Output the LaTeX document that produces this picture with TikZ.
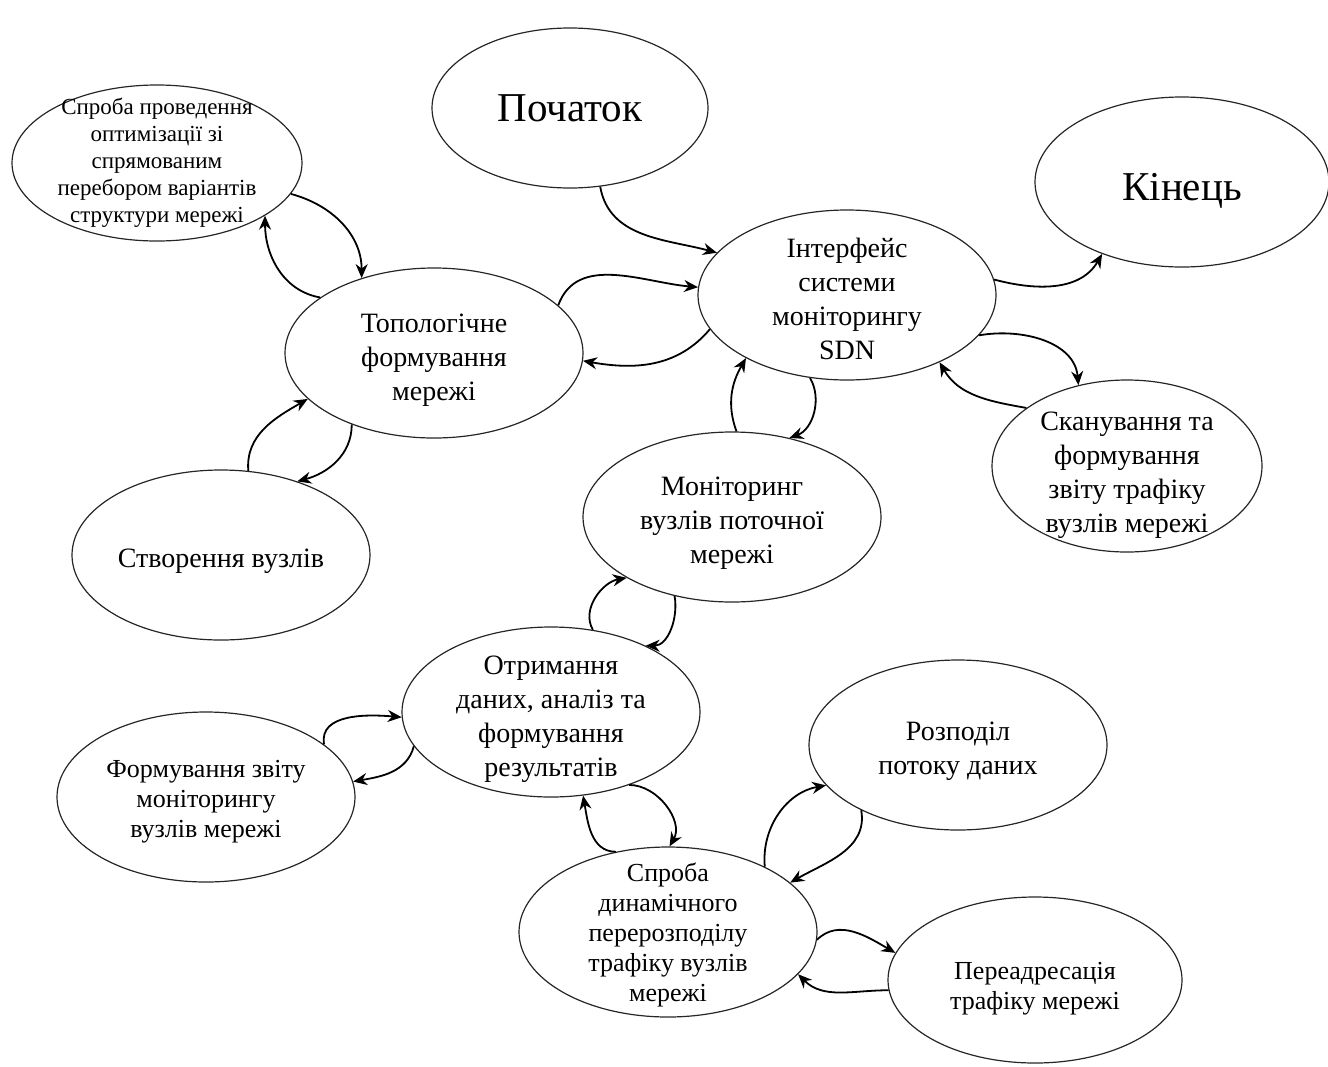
\documentclass[tikz,border=0pt]{standalone}
\usepackage{fontspec}
\setmainfont{Liberation Serif}
\usetikzlibrary{shapes.geometric, arrows.meta}

\newcommand\sink[1]{\rule{0pt}{\dimexpr 0.7em+#1*2\relax}}

\begin{document}
\begin{tikzpicture}[x=0.5pt, y=0.5pt,
    stage/.style={ellipse, draw=black!85, line width=0.6pt, inner sep=-40pt, align=center,
                  minimum width=149pt, minimum height=85pt, font=\fontsize{14}{17}\selectfont},
    smalltext/.style={font=\fontsize{13}{15}\selectfont},
    tinytext/.style={font=\fontsize{11.5}{13.5}\selectfont},
    bigtext/.style={font=\fontsize{20.5}{24}\selectfont},
    link/.style={-{Stealth[length=7pt,width=6pt]}, line width=0.9pt}]
\useasboundingbox (0,0) rectangle (1328,-1066);

\node[stage, bigtext, minimum width=138pt, minimum height=80pt] (start) at (570,-108) {Початок};
\node[stage, bigtext, minimum width=147pt] (finish) at (1182,-182) {\sink{4pt}Кінець};
\node[stage, tinytext, minimum width=145pt, minimum height=78pt] (optim) at (157,-163)
    {Спроба проведення\\ оптимізації зі\\ спрямованим\\ перебором варіантів\\ структури мережі};
\node[stage] (topo) at (434,-353) {\sink{3.5pt}Топологічне\\ формування\\ мережі};
\node[stage] (iface) at (847,-295) {\sink{2pt}Інтерфейс\\ системи\\ моніторингу\\ SDN};
\node[stage, minimum width=135pt, minimum height=86pt] (scan) at (1127,-466)
    {\sink{4.5pt}Сканування та\\ формування\\ звіту трафіку\\ вузлів мережі};
\node[stage] (create) at (221,-555) {\sink{3pt}Створення вузлів};
\node[stage] (monitor) at (732,-517) {\sink{3pt}Моніторинг\\ вузлів поточної\\ мережі};
\node[stage] (analysis) at (551,-712) {\sink{3.5pt}Отримання\\ даних, аналіз та\\ формування\\ результатів};
\node[stage, smalltext] (report) at (206,-797) {\sink{2pt}Формування звіту\\ моніторингу\\ вузлів мережі};
\node[stage] (split) at (958,-745) {\sink{3pt}Розподіл\\ потоку даних};
\node[stage, smalltext] (redist) at (668,-932)
    {\sink{1.5pt}Спроба\\ динамічного\\ перерозподілу\\ трафіку вузлів\\ мережі};
\node[stage, smalltext, minimum width=147pt, minimum height=83pt] (forward) at (1035,-980)
    {\sink{4pt}Переадресація\\ трафіку мережі};

\draw[link] (start.-69) to[out=-80, in=165] (iface.162);
\draw[link] (topo.21) to[out=70, in=175] (iface.177);
\draw[link] (iface.194) to[out=-130, in=-10] (topo.-3);
\draw[link] (optim.-13) to[out=-15, in=90] (topo.134);
\draw[link] (topo.154) to[out=170, in=-90] (optim.-26);
\draw[link] (create.72) to[out=95, in=210] (topo.200);
\draw[link] (topo.-139) to[out=-90, in=15] (create.44);
\draw[link] (iface.6) to[out=-15, in=240] (finish.222);
\draw[link] (iface.-17) to[out=10, in=95] (scan.121);
\draw[link] (scan.150) to[out=170, in=-60] (iface.-36);
\draw[link] (monitor.87) to[out=110, in=-120] (iface.212);
\draw[link] (iface.-114) to[out=-60, in=20] (monitor.54);
\draw[link] (analysis.63) to[out=120, in=190] (monitor.210);
\draw[link] (monitor.-126) to[out=-80, in=0] (analysis.35);
\draw[link] (report.24) to[out=100, in=175] (analysis.182);
\draw[link] (analysis.194) to[out=-105, in=10] (report.6);
\draw[link] (analysis.-43) to[out=0, in=60] (redist.89);
\draw[link] (redist.123) to[out=180, in=-80] (analysis.-69);
\draw[link] (redist.34) to[out=95, in=190] (split.197);
\draw[link] (split.214) to[out=-80, in=30] (redist.22);
\draw[link] (redist.-3) to[out=45, in=150] (forward.169);
\draw[link] (forward.184) to[out=180, in=-45] (redist.-18);
\end{tikzpicture}
\end{document}
